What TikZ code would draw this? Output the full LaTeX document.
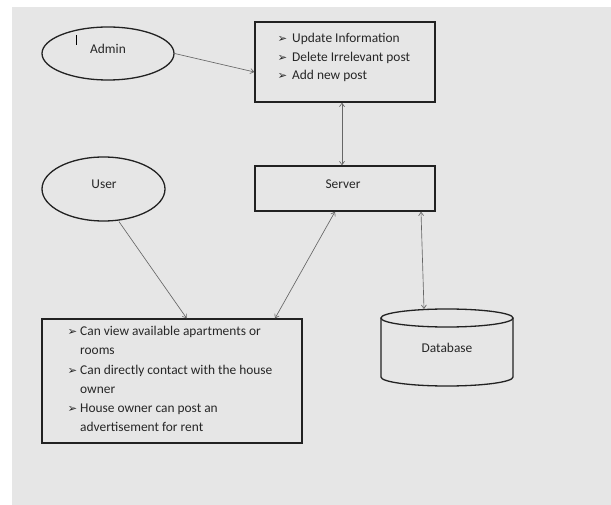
\documentclass[tikz,border=0pt]{standalone}
\usepackage{fontspec}
\setmainfont{Carlito}
\newfontfamily\symfont{DejaVu Sans}
\usetikzlibrary{shapes.geometric,arrows.meta}
\definecolor{bggrey}{HTML}{E6E6E6}
\definecolor{arrowgrey}{HTML}{666666}
\definecolor{boxline}{HTML}{222222}
\newcommand{\bul}{{\symfont\fontsize{11.5}{13}\selectfont ➢}}
\tikzset{
  shapebox/.style={draw=boxline, line width=1.3pt, rectangle, inner sep=0pt},
  oval/.style={draw=boxline, line width=1.3pt, ellipse, inner sep=0pt},
  itemtext/.style={anchor=base west, inner sep=0pt, text=black!85, font=\fontsize{13.4}{15}\selectfont},
  labeltext/.style={inner sep=0pt, text=black!85, font=\fontsize{13.4}{15}\selectfont},
  link/.style={draw=arrowgrey, line width=0.65pt, -{Straight Barb[length=3.5pt,width=5pt]}},
  dlink/.style={draw=arrowgrey, line width=0.65pt, {Straight Barb[length=3.5pt,width=5pt]}-{Straight Barb[length=3.5pt,width=5pt]}}
}
\begin{document}
\begin{tikzpicture}[x=1pt,y=-1pt]
\useasboundingbox (0,0) rectangle (611,505);
\fill[white] (0,0) rectangle (611,505);
\fill[bggrey] (12,7) rectangle (611,505);

% Admin
\node[oval, minimum width=132pt, minimum height=53pt] (admin) at (108,53.5) {};
\node[labeltext] (admintxt) at (108,49) {Admin};
\draw[line width=0.6pt] (76,35) -- (76,45);

% top box
\node[shapebox, minimum width=180pt, minimum height=80pt] (topbox) at (345,62) {};
\node[itemtext] (t1b) at (277.5,43) {\bul};
\node[itemtext] (t1) at (292,43) {Update Information};
\node[itemtext] (t2b) at (277.5,62) {\bul};
\node[itemtext] (t2) at (292,62) {Delete Irrelevant post};
\node[itemtext] (t3b) at (277.5,80) {\bul};
\node[itemtext] (t3) at (292,80) {Add new post};

% server
\node[shapebox, minimum width=180pt, minimum height=45pt] (server) at (345,188.5) {};
\node[labeltext] (servertxt) at (343,184) {Server};

% user
\node[oval, minimum width=123pt, minimum height=64pt] (user) at (103.5,189) {};
\node[labeltext] (usertxt) at (104,184) {User};

% bottom box
\node[shapebox, minimum width=260pt, minimum height=124pt] (bottom) at (172,381) {};
\node[itemtext] (b1b) at (67.5,336) {\bul};
\node[itemtext] (b1) at (80,336) {Can view available apartments or};
\node[itemtext] (b1c) at (80,355) {rooms};
\node[itemtext] (b2b) at (67.5,374) {\bul};
\node[itemtext] (b2) at (80,374) {Can directly contact with the house};
\node[itemtext] (b2c) at (80,393) {owner};
\node[itemtext] (b3b) at (67.5,412) {\bul};
\node[itemtext] (b3) at (80,412) {House owner can post an};
\node[itemtext] (b3c) at (80,431) {advertisement for rent};

% database cylinder
\draw[draw=boxline, line width=1.3pt, fill=bggrey]
  (381,318) -- (381,377) arc[start angle=180, end angle=360, x radius=66, y radius=-9]
  -- (513,318);
\draw[draw=boxline, line width=1.3pt] (447,318) ellipse[x radius=66, y radius=9];
\node[labeltext] (db) at (447,348) {Database};
\coordinate (dbtop) at (424,309);

% connectors
\draw[link] (admin.east) -- ([yshift=-10pt]topbox.west);
\draw[dlink] ([xshift=-3pt]topbox.south) -- ([xshift=-3pt]server.north);
\draw[link] ([xshift=15.5pt]user.south) -- ([xshift=14.7pt]bottom.north);
\draw[dlink] ([xshift=-10pt]server.south) -- ([xshift=103pt]bottom.north);
\draw[dlink] ([xshift=76pt]server.south) -- (dbtop);
\end{tikzpicture}
\end{document}
